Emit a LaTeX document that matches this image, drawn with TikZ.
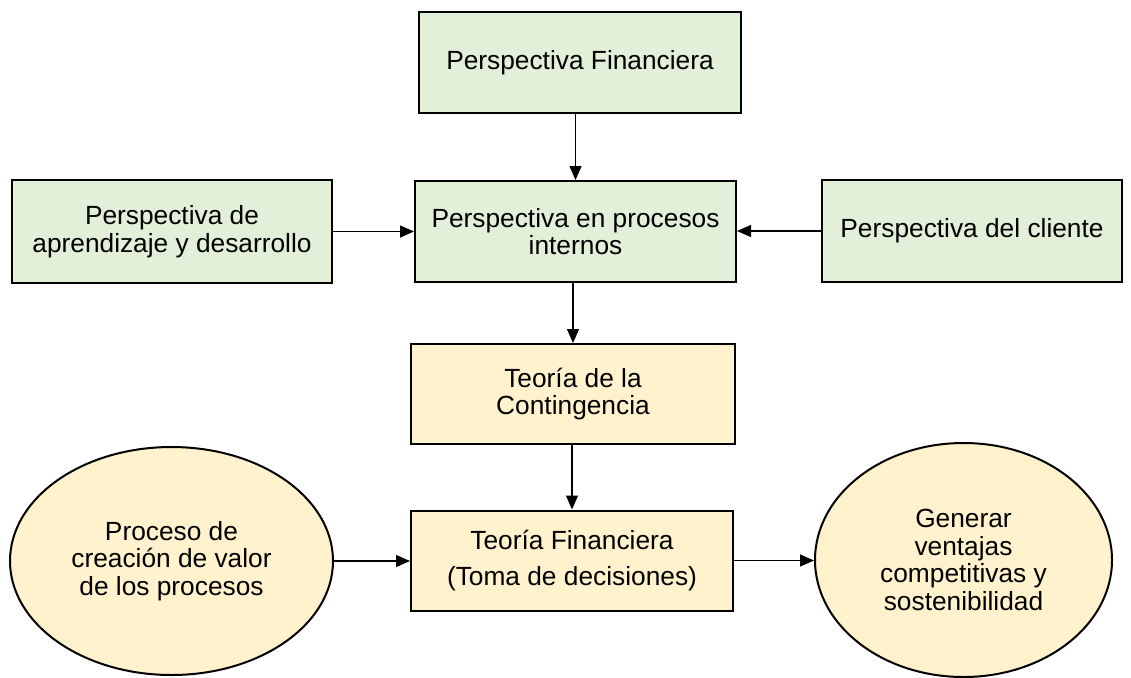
\documentclass[tikz,border=0pt]{standalone}
\usepackage{fontspec}
\setmainfont{Liberation Sans}
\usetikzlibrary{positioning,shapes.geometric,arrows.meta}
\definecolor{boxgreen}{HTML}{E2EFD9}
\definecolor{boxyellow}{HTML}{FFF2CC}

\begin{document}
\begin{tikzpicture}[
  x=1pt, y=-1pt,
  every node/.style={font=\fontsize{26.3}{27.5}\selectfont, align=center, inner sep=0pt},
  greenbox/.style={rectangle, draw, line width=2pt, fill=boxgreen, minimum width=321pt, minimum height=101pt},
  yellowbox/.style={rectangle, draw, line width=2pt, fill=boxyellow, minimum width=322pt, minimum height=100pt},
  yellowell/.style={ellipse, draw, line width=2pt, fill=boxyellow},
  arr/.style={-{Triangle[length=14pt,width=12pt]}, line width=1.2pt}
]
\useasboundingbox (0,0) rectangle (1131,677);

% Perspectives of the scorecard
\node[greenbox, minimum width=322pt] (PF) at (580,62.5) {Perspectiva Financiera};
\node[greenbox] (PEPI) at (575.5,231.5) {Perspectiva en procesos\\internos};
\node[greenbox, minimum width=320pt, minimum height=103pt] (PAD) at (172,231.5) {Perspectiva de\\aprendizaje y desarrollo};
\node[greenbox, minimum width=300pt, minimum height=102pt] (PDC) at (972,231) {Perspectiva del cliente};

% Theories
\node[yellowbox, minimum width=324pt] (TC) at (573,394) {Teoría de la\\Contingencia};
\node[yellowbox] (TF) at (572,560.5) {Teoría Financiera\\[9pt](Toma de decisiones)};

% Process and result
\node[yellowell, minimum width=323pt, minimum height=228pt] (PCV) at (171.5,561) {Proceso de\\creación de valor\\de los procesos};
\node[yellowell, minimum width=297pt, minimum height=234pt] (GVC) at (963.5,560) {Generar\\ventajas\\competitivas y\\sostenibilidad};

% Connectors
\draw[arr] (PEPI.north |- PF.south) -- (PEPI.north);
\draw[arr] (PAD.east) -- (PAD.east -| PEPI.west);
\draw[arr] (PDC.west) -- (PDC.west -| PEPI.east);
\draw[arr] (PEPI.south -| TC.north) -- (TC.north);
\draw[arr] (TC.south -| TF.north) -- (TF.north);
\draw[arr] (PCV.east) -- (PCV.east -| TF.west);
\draw[arr] (TF.east) -- (TF.east -| GVC.west);

\end{tikzpicture}
\end{document}
